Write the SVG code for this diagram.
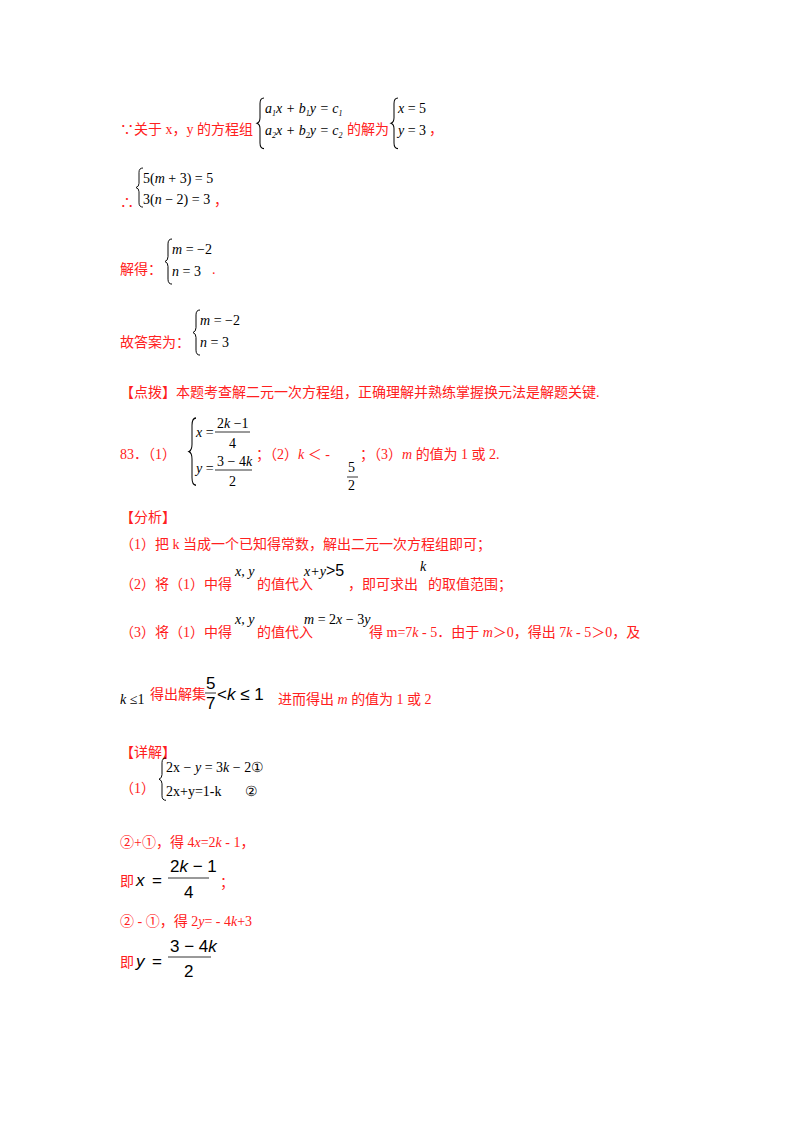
<svg xmlns="http://www.w3.org/2000/svg" width="800" height="1132" viewBox="0 0 800 1132">
<style>
.r{fill:#ff2020;font-family:"Liberation Serif","Noto Sans CJK SC",serif;font-size:14px}
.m{fill:#000;font-family:"Liberation Serif",serif;font-size:14px}
.i{font-style:italic}
.s{fill:#000;font-family:"Liberation Sans",sans-serif;font-size:17px}
.b{fill:none;stroke:#000;stroke-width:1}
.fl{stroke:#000;stroke-width:0.8}
</style>
<defs><path id="br" d="M6,0 Q2,0 2,5 L2,18 Q2,22 -1,23 Q2,24 2,28 L2,41 Q2,46 6,46" class="b"/></defs>
<rect width="800" height="1132" fill="#fff"/>
<g id="l1">
<text class="r" x="120" y="134">∵关于 x，y 的方程组</text>
<use href="#br" transform="translate(258,98) scale(1,1.1)"/>
<text class="m i" x="265" y="113">a<tspan font-size="8" dy="3">1</tspan><tspan dy="-3">x + b</tspan><tspan font-size="8" dy="3">1</tspan><tspan dy="-3">y = c</tspan><tspan font-size="8" dy="3">1</tspan></text>
<text class="m i" x="265" y="135">a<tspan font-size="8" dy="3">2</tspan><tspan dy="-3">x + b</tspan><tspan font-size="8" dy="3">2</tspan><tspan dy="-3">y = c</tspan><tspan font-size="8" dy="3">2</tspan></text>
<text class="r" x="347" y="134">的解为</text>
<use href="#br" transform="translate(392,98) scale(1,1.1)"/>
<text class="m" x="398" y="113"><tspan class="i">x</tspan> = 5</text>
<text class="m" x="398" y="135"><tspan class="i">y</tspan> = 3</text>
<text class="r" x="429" y="134">，</text>
</g>
<g id="l2">
<text class="r" x="120" y="207">∴</text>
<use href="#br" transform="translate(137,168) scale(1,0.85)"/>
<text class="m" x="143" y="183">5(<tspan class="i">m</tspan> + 3) = 5</text>
<text class="m" x="143" y="204">3(<tspan class="i">n</tspan> − 2) = 3</text>
<text class="r" x="214" y="205">，</text>
</g>
<g id="l3">
<text class="r" x="120" y="274">解得：</text>
<use href="#br" transform="translate(166,239) scale(1,0.98)"/>
<text class="m" x="172" y="254"><tspan class="i">m</tspan> = −2</text>
<text class="m" x="172" y="276"><tspan class="i">n</tspan> = 3</text>
<text class="r" x="212" y="274">.</text>
</g>
<g id="l4">
<text class="r" x="120" y="347">故答案为：</text>
<use href="#br" transform="translate(194,310) scale(1,0.98)"/>
<text class="m" x="200" y="325"><tspan class="i">m</tspan> = −2</text>
<text class="m" x="200" y="347"><tspan class="i">n</tspan> = 3</text>
</g>
<text class="r" x="120" y="397">【点拨】本题考查解二元一次方程组，正确理解并熟练掌握换元法是解题关键.</text>
<g id="l83">
<text class="r" x="120" y="459">83．（1）</text>
<use href="#br" transform="translate(190,418) scale(1,1.46)"/>
<text class="m" x="196" y="437"><tspan class="i">x</tspan> =</text>
<text class="m" x="217" y="428">2<tspan class="i">k</tspan> −1</text>
<line class="fl" x1="215" y1="432" x2="250" y2="432"/>
<text class="m" x="229" y="448">4</text>
<text class="m" x="196" y="473"><tspan class="i">y</tspan> =</text>
<text class="m" x="217" y="466">3 − 4<tspan class="i">k</tspan></text>
<line class="fl" x1="215" y1="470" x2="252" y2="470"/>
<text class="m" x="229" y="486">2</text>
<text class="r" x="256" y="459">；（2）<tspan class="i">k</tspan> ＜ -</text>
<text class="m" x="348" y="472">5</text>
<line class="fl" x1="347" y1="477" x2="358" y2="477"/>
<text class="m" x="348" y="490">2</text>
<text class="r" x="360" y="459">；（3）<tspan class="i">m</tspan> 的值为 1 或 2.</text>
</g>
<text class="r" x="120" y="522">【分析】</text>
<text class="r" x="120" y="549">（1）把 k 当成一个已知得常数，解出二元一次方程组即可；</text>
<g id="a2">
<text class="r" x="120" y="589">（2）将（1）中得</text>
<text class="m i" x="235" y="576">x, y</text>
<text class="r" x="257" y="589">的值代入</text>
<text class="m i" x="304" y="576">x+y<tspan font-style="normal" font-family="Liberation Sans" font-size="16">&gt;5</tspan></text>
<text class="r" x="348" y="589">，即可求出</text>
<text class="m i" x="420" y="571">k</text>
<text class="r" x="428" y="589">的取值范围；</text>
</g>
<g id="a3">
<text class="r" x="120" y="637">（3）将（1）中得</text>
<text class="m i" x="235" y="624">x, y</text>
<text class="r" x="257" y="637">的值代入</text>
<text class="m" x="304" y="624"><tspan class="i">m</tspan> = 2<tspan class="i">x</tspan> − 3<tspan class="i">y</tspan></text>
<text class="r" x="369" y="637">得 m=7<tspan class="i">k</tspan> - 5．由于 <tspan class="i">m</tspan>＞0，得出 7<tspan class="i">k</tspan> - 5＞0，及</text>
</g>
<g id="a4">
<text class="m" x="120" y="704"><tspan class="i">k</tspan> ≤1</text>
<text class="r" x="150" y="699">得出解集</text>
<text class="s" x="206" y="689" font-size="15">5</text>
<line class="fl" x1="205" y1="693" x2="216" y2="693"/>
<text class="s" x="206" y="709" font-size="15">7</text>
<text class="s" x="217" y="700">&lt;<tspan class="i">k</tspan> ≤ 1</text>
<text class="r" x="278" y="704">进而得出 <tspan class="i">m</tspan> 的值为 1 或 2</text>
</g>
<text class="r" x="120" y="757">【详解】</text>
<g id="d1">
<text class="r" x="120" y="793">（1）</text>
<use href="#br" transform="translate(160,758) scale(1,0.92)"/>
<text class="m" x="166" y="772">2x − <tspan class="i">y</tspan> = 3<tspan class="i">k</tspan> − 2①</text>
<text class="m" x="166" y="796">2x+y=1-k</text>
<text class="m" x="245" y="796">②</text>
</g>
<text class="r" x="120" y="847">②+①，得 4<tspan class="i">x</tspan>=2<tspan class="i">k</tspan> - 1，</text>
<g id="d2">
<text class="r" x="120" y="886">即</text>
<text class="s i" x="136" y="886">x</text>
<text class="s" x="152" y="886" font-size="14">=</text>
<text class="s" x="170" y="872">2<tspan class="i">k</tspan> − 1</text>
<line class="fl" x1="168" y1="878" x2="209" y2="878"/>
<text class="s" x="184" y="898">4</text>
<text class="r" x="220" y="887">；</text>
</g>
<text class="r" x="120" y="926">② - ①，得 2<tspan class="i">y</tspan>= - 4<tspan class="i">k</tspan>+3</text>
<g id="d3">
<text class="r" x="120" y="967">即</text>
<text class="s i" x="136" y="967">y</text>
<text class="s" x="152" y="967" font-size="14">=</text>
<text class="s" x="170" y="952">3 − 4<tspan class="i">k</tspan></text>
<line class="fl" x1="168" y1="957" x2="211" y2="957"/>
<text class="s" x="184" y="977">2</text>
</g>
</svg>
